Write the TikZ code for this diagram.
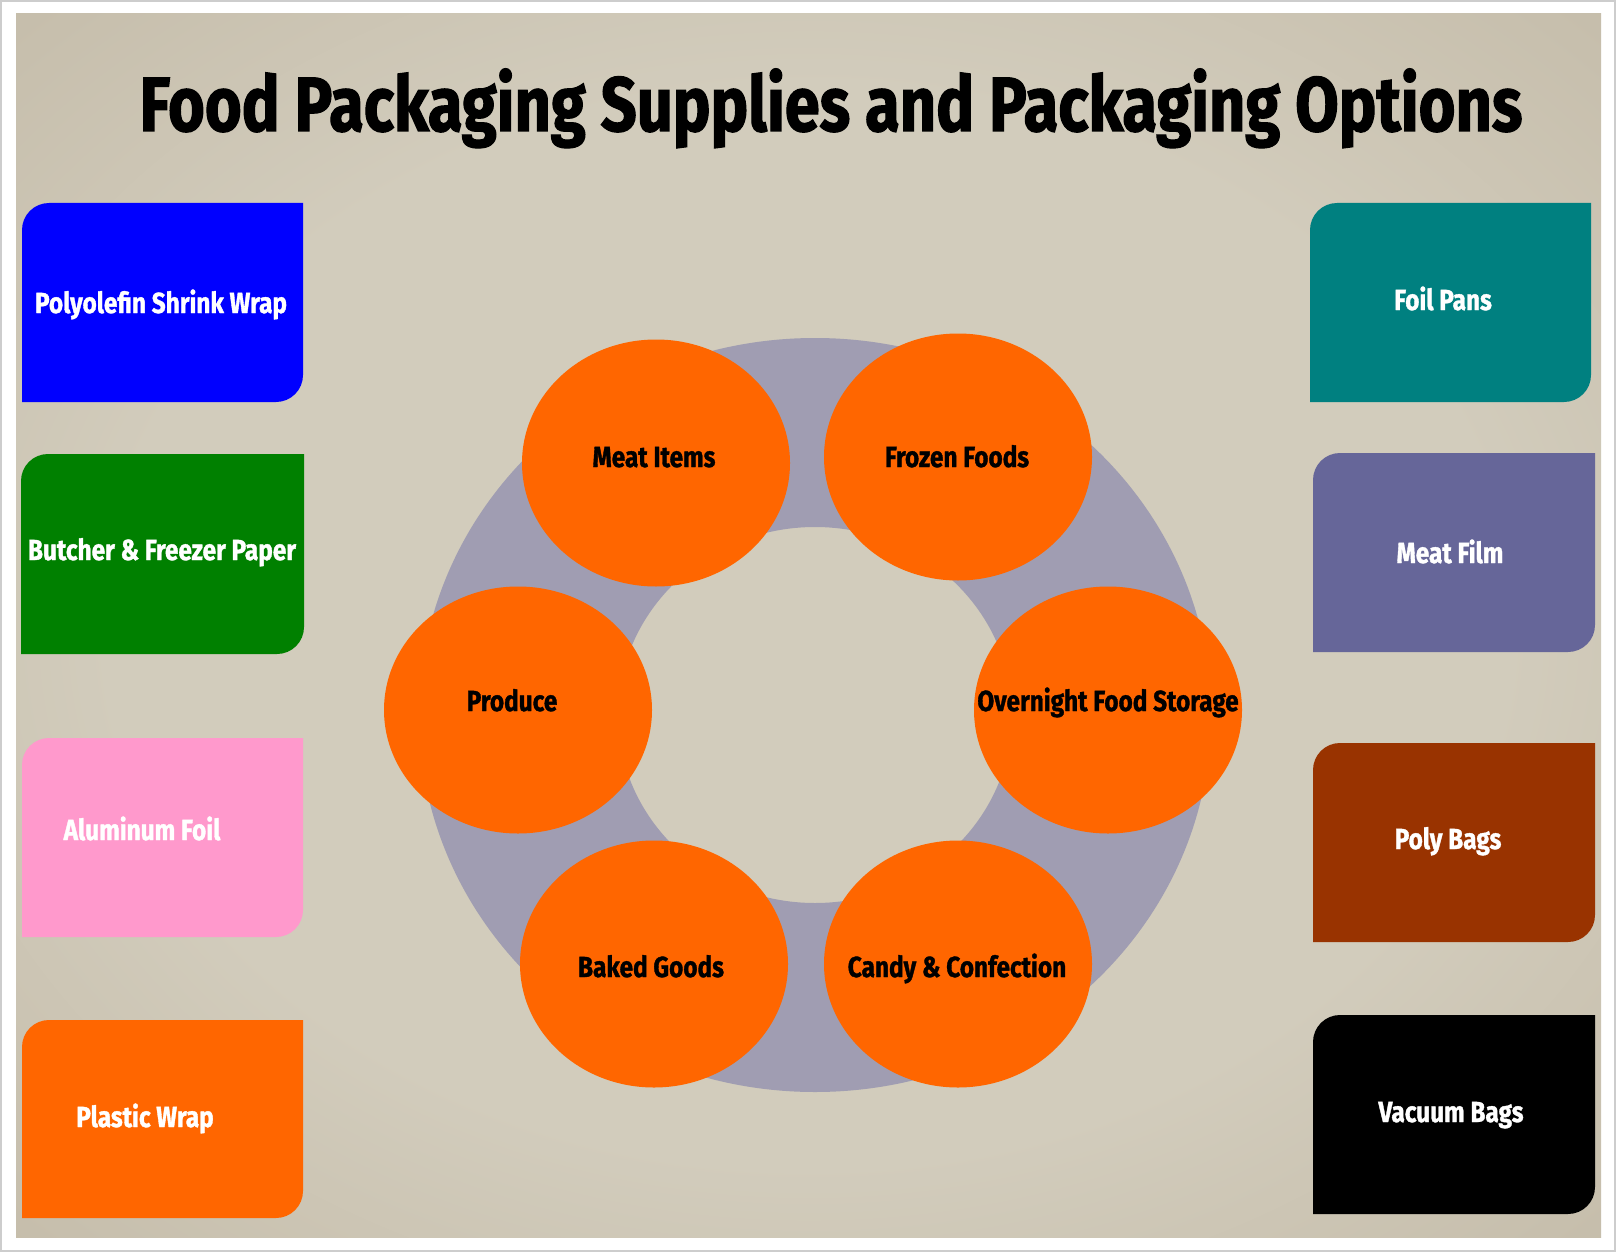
\documentclass[tikz,border=0pt]{standalone}
\usepackage{fontspec}
\usetikzlibrary{shapes.geometric}
\newfontfamily\dinfont{Fira Sans}[FakeStretch=0.84, FakeBold=1.2]
\newfontfamily\titlefont{Fira Sans}[FakeStretch=0.82, FakeBold=1.5]
\definecolor{bglight}{RGB}{210,204,188}
\definecolor{bgmid}{RGB}{188,178,158}
\definecolor{bgdark}{RGB}{140,127,104}
\definecolor{ringcol}{RGB}{160,157,178}
\definecolor{orangec}{RGB}{255,102,0}
\definecolor{bluec}{RGB}{0,0,255}
\definecolor{greenc}{RGB}{0,128,0}
\definecolor{pinkc}{RGB}{255,153,204}
\definecolor{tealc}{RGB}{0,128,128}
\definecolor{purplec}{RGB}{102,102,153}
\definecolor{brownc}{RGB}{153,51,0}
\definecolor{framegray}{RGB}{205,205,205}
\pgfdeclareradialshading{paper}{\pgfpoint{0bp}{0bp}}{color(0bp)=(bglight); color(22bp)=(bglight); color(46bp)=(bgmid); color(71bp)=(bgdark)}
\newcommand{\tagbox}[5]{%
  \fill[#5] (#1,#4) -- (#1,#2+27) arc[start angle=180,end angle=270,radius=27]
    -- (#3,#2) -- (#3,#4-27) arc[start angle=0,end angle=90,radius=27] -- cycle;}
\tikzset{
  boxtxt/.style={font=\dinfont\bfseries\fontsize{29}{29}\selectfont, anchor=base, inner sep=0pt, text=white},
  blobtxt/.style={font=\dinfont\bfseries\fontsize{29}{29}\selectfont, anchor=base, inner sep=0pt, text=black},
  blob/.style={ellipse, fill=orangec, minimum width=268pt, minimum height=247pt, inner sep=0pt},
}
\begin{document}
\begin{tikzpicture}[x=1pt,y=-1pt]
\useasboundingbox (0,0) rectangle (1616,1252);
\fill[white] (0,0) rectangle (1616,1252);
\draw[framegray, line width=2pt] (1,1) rectangle (1615,1251);
\shade[shading=paper] (16,14) rectangle (1601,1237);
% title
\node[font=\titlefont\bfseries\fontsize{77}{77}\selectfont, anchor=base, inner sep=0pt] (title) at (831,131) {Food Packaging Supplies and Packaging Options};
% left boxes
\tagbox{22}{203}{303}{402}{bluec}
\tagbox{21}{454}{304}{654}{greenc}
\tagbox{22}{738}{303}{937}{pinkc}
\tagbox{22}{1020}{303}{1218}{orangec}
% right boxes
\tagbox{1310}{203}{1591}{402}{tealc}
\tagbox{1313}{453}{1595}{652}{purplec}
\tagbox{1313}{743}{1595}{942}{brownc}
\tagbox{1313}{1015}{1595}{1214}{black}
\node[boxtxt] (polyolefin) at (161,313) {Polyolefin Shrink Wrap};
\node[boxtxt] (butcher) at (162,560) {Butcher \& Freezer Paper};
\node[boxtxt] (aluminum) at (142,840) {Aluminum Foil};
\node[boxtxt] (plastic) at (145,1127) {Plastic Wrap};
\node[boxtxt] (foilpans) at (1443,310) {Foil Pans};
\node[boxtxt] (meatfilm) at (1450,563) {Meat Film};
\node[boxtxt] (polybags) at (1448,849) {Poly Bags};
\node[boxtxt] (vacuum) at (1451,1122) {Vacuum Bags};
% ring
\fill[ringcol, even odd rule] (815,715) ellipse [x radius=396, y radius=377] (815,715) ellipse [x radius=197, y radius=188];
% circles
\node[blob] (meat) at (656,463) {};
\node[blob] (frozen) at (958,457) {};
\node[blob] (produce) at (518,710) {};
\node[blob] (overnight) at (1108,710) {};
\node[blob] (baked) at (654,964) {};
\node[blob] (candy) at (958,964) {};
\node[blobtxt] (tmeat) at (654,467) {Meat Items};
\node[blobtxt] (tfrozen) at (957,467) {Frozen Foods};
\node[blobtxt] (tproduce) at (512,711) {Produce};
\node[blobtxt] (tovernight) at (1108,711) {Overnight Food Storage};
\node[blobtxt] (tbaked) at (651,977) {Baked Goods};
\node[blobtxt] (tcandy) at (957,977) {Candy \& Confection};
\end{tikzpicture}
\end{document}
